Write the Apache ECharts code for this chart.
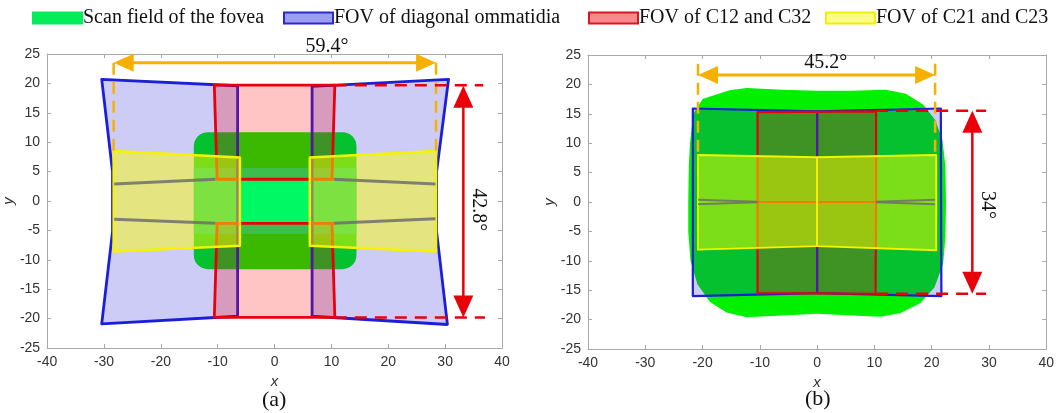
<!DOCTYPE html>
<html>
<head>
<meta charset="utf-8">
<script src="https://cdn.jsdelivr.net/npm/echarts@6/dist/echarts.min.js"></script>
<style>
  html, body { margin: 0; background: #fff; }
  #chart { width: 1057px; height: 413px; }
</style>
</head>
<body>
<div id="chart"></div>
<script>
// axis ranges
const xRange = [-40, 40, 10];
const yRange = [-25, 25, 5];

const legendNames = ['Scan field of the fovea', 'FOV of diagonal ommatidia', 'FOV of C12 and C32', 'FOV of C21 and C23'];

// ---- panel (a) ----
// scan field: [xmin, xmax, ymin, ymax]
const scanFieldA = [-14.2, 14.4, -11.6, 11.7];
const scanBandA = [-14.2, 14.4, -5.6, 5.6];
const diagA = [
  [[-30.4, 20.7], [-6.5, 19.6], [-6.5, -19.6], [-30.4, -20.9], [-28.5, -5.2], [-28.5, 5.0]],
  [[6.6, 19.5], [30.6, 20.7], [28.5, 5.0], [28.5, -5.2], [30.4, -21.0], [6.6, -19.6]]
];
const c12A = [
  [[-10.6, 19.7], [10.6, 19.7], [10.1, 3.7], [-10.1, 3.7]],
  [[-10.1, -3.8], [10.1, -3.8], [10.6, -19.8], [-10.6, -19.8]]
];
const c21A = [
  [[-28.3, 8.5], [-6.1, 7.4], [-6.1, -7.6], [-28.3, -8.6]],
  [[6.2, 7.4], [28.4, 8.5], [28.4, -8.6], [6.2, -7.6]]
];
const grayA = [
  [[-28.2, 2.9], [-10.4, 3.7]], [[-28.2, -3.1], [-10.4, -3.8]],
  [[10.4, 3.7], [28.3, 2.9]], [[10.4, -3.8], [28.3, -3.0]]
];
const widthArrowA = [-28.3, 23.5, 28.4, 23.5];
const widthGuidesA = [[[-28.3, 23.5], [-28.3, 8.5]], [[28.4, 23.5], [28.4, 8.5]]];
const heightArrowA = [33.2, 19.6, 33.2, -19.8];
const heightGuidesA = [[[10.6, 19.7], [36.7, 19.7]], [[10.6, -19.8], [37.0, -19.8]]];
const labelsA = [['59.4°', 9.2, 26.2, 0], ['42.8°', 35.9, -1.5, -90]];

// ---- panel (b) ----
const scanFieldB = [
  [0, 18.9], [6, 18.9], [12, 19.1], [15.5, 18.4], [18.5, 16.6], [20.6, 14], [21.9, 10.5], [22.4, 6],
  [22.5, 0], [22.4, -6], [22, -10.5], [20.5, -14.5], [18, -17.2], [14.5, -18.9], [11, -19.5],
  [6, -19.3], [0, -19], [-6, -19.3], [-12.3, -19.6], [-15.8, -18.8], [-18.7, -17], [-20.9, -14],
  [-22.1, -10], [-22.5, -5], [-22.5, 0], [-22.4, 6], [-22.2, 10], [-21.6, 15], [-20, 17.5],
  [-15.3, 19], [-12.3, 19.4], [-6, 19.1]
];
const diagB = [
  [[-21.7, 15.9], [0, 15.4], [0, -15.5], [-21.7, -16.0]],
  [[0, 15.4], [21.6, 15.9], [21.7, -16.0], [0, -15.5]]
];
const c12B = [
  [[-10.4, 15.3], [10.3, 15.4], [10.3, 0], [-10.4, 0]],
  [[-10.4, 0], [10.3, 0], [10.2, -15.6], [-10.4, -15.5]]
];
const c21B = [
  [[-20.8, 8.0], [0, 7.6], [0, -7.5], [-20.8, -8.1]],
  [[0, 7.6], [20.8, 8.0], [20.8, -8.2], [0, -7.5]]
];
const grayB = [
  [[-20.8, 0.4], [-10.4, 0.05]], [[-20.8, -0.4], [-10.4, -0.05]],
  [[10.3, 0.05], [20.6, 0.4]], [[10.3, -0.05], [20.6, -0.4]]
];
const widthArrowB = [-20.8, 21.6, 20.6, 21.6];
const widthGuidesB = [[[-20.8, 23.5], [-20.8, 8.0]], [[20.6, 23.5], [20.6, 8.0]]];
const heightArrowB = [27.1, 15.5, 27.1, -15.6];
const heightGuidesB = [[[10.3, 15.5], [29.5, 15.5]], [[10.3, -15.6], [29.5, -15.6]]];
const labelsB = [['45.2°', 1.5, 23.6, 0], ['34°', 29.7, -0.5, -90]];

const GREEN = '#00f000', BAND = '#00f864';
const BLUE_FILL = 'rgba(25,25,215,0.22)', BLUE = '#1c1fd8';
const RED_FILL = 'rgba(255,0,0,0.23)', RED = '#e8000b';
const YEL_FILL = 'rgba(255,255,0,0.48)', YEL = '#f4f400';
const ORANGE = '#f6b100';

function onGrid(g, s) {
  return Object.assign({ type: 'custom', xAxisIndex: g * 2, yAxisIndex: g * 2, silent: true, clip: false }, s);
}

function polySeries(name, g, list, fill, stroke, lw) {
  return onGrid(g, {
    name,
    data: list.map(() => [0, 0]),
    renderItem: (params, api) => ({
      type: 'polygon',
      shape: { points: list[params.dataIndex].map(p => api.coord(p)) },
      style: { fill, stroke, lineWidth: lw, lineJoin: 'round' }
    })
  });
}

function rectSeries(name, g, list, fill, r) {
  return onGrid(g, {
    name,
    data: list.map(() => [0, 0]),
    renderItem: (params, api) => {
      const b = list[params.dataIndex];
      const p1 = api.coord([b[0], b[3]]), p2 = api.coord([b[1], b[2]]);
      return { type: 'rect', shape: { x: p1[0], y: p1[1], width: p2[0] - p1[0], height: p2[1] - p1[1], r }, style: { fill } };
    }
  });
}

function lineSeries(g, list, stroke, lw, dash) {
  return onGrid(g, {
    data: list.map(() => [0, 0]),
    renderItem: (params, api) => ({
      type: 'polyline',
      shape: { points: list[params.dataIndex].map(p => api.coord(p)) },
      style: { stroke, lineWidth: lw, fill: null, lineDash: dash || null }
    })
  });
}

function arrowSeries(g, a, color, lw, headLen, headHalf) {
  return onGrid(g, {
    data: [[0, 0]],
    renderItem: (params, api) => {
      const p1 = api.coord([a[0], a[1]]), p2 = api.coord([a[2], a[3]]);
      const dx = p2[0] - p1[0], dy = p2[1] - p1[1];
      const L = Math.hypot(dx, dy), ux = dx / L, uy = dy / L, nx = -uy, ny = ux;
      const head = (tip, s) => {
        const bx = tip[0] - s * ux * headLen, by = tip[1] - s * uy * headLen;
        return { type: 'polygon', shape: { points: [tip, [bx + nx * headHalf, by + ny * headHalf], [bx - nx * headHalf, by - ny * headHalf]] }, style: { fill: color } };
      };
      return {
        type: 'group',
        children: [
          { type: 'line', shape: { x1: p1[0] + ux * headLen * 0.8, y1: p1[1] + uy * headLen * 0.8, x2: p2[0] - ux * headLen * 0.8, y2: p2[1] - uy * headLen * 0.8 }, style: { stroke: color, lineWidth: lw } },
          head(p1, -1), head(p2, 1)
        ]
      };
    }
  });
}

function textSeries(g, list) {
  return onGrid(g, {
    data: list.map(() => [0, 0]),
    renderItem: (params, api) => {
      const t = list[params.dataIndex];
      const p = api.coord([t[1], t[2]]);
      return {
        type: 'text', x: p[0], y: p[1], rotation: t[3] * Math.PI / 180,
        style: { text: t[0], fill: '#111', font: '20px "Liberation Serif"', align: 'center', verticalAlign: 'middle' }
      };
    }
  });
}

function panelSeries(g, d) {
  const out = [];
  if (d.blob) out.push(polySeries(legendNames[0], g, [d.blob], GREEN, null, 0));
  if (d.rect) {
    out.push(rectSeries(legendNames[0], g, [d.rect], GREEN, 14));
    out.push(rectSeries(legendNames[0], g, [d.band], BAND, 0));
  }
  out.push(polySeries(legendNames[1], g, d.diag, BLUE_FILL, BLUE, d.lw));
  out.push(polySeries(legendNames[2], g, d.c12, RED_FILL, RED, d.lw));
  out.push(polySeries(legendNames[3], g, d.c21, YEL_FILL, YEL, d.lw - 0.3));
  out.push(lineSeries(g, d.gray, 'rgba(110,110,110,0.85)', d.grayW));
  out.push(lineSeries(g, d.wGuides, ORANGE, 2.5, [12, 7]));
  out.push(lineSeries(g, d.hGuides, RED, 2.5, [12, 8]));
  out.push(arrowSeries(g, d.wArrow, ORANGE, 3, 20, 9));
  out.push(arrowSeries(g, d.hArrow, RED, 2.5, 22, 10));
  out.push(textSeries(g, d.labels));
  return out;
}

const series = [].concat(
  panelSeries(0, { rect: scanFieldA, band: scanBandA, diag: diagA, c12: c12A, c21: c21A, gray: grayA, grayW: 3,
    wArrow: widthArrowA, wGuides: widthGuidesA, hArrow: heightArrowA, hGuides: heightGuidesA, labels: labelsA, lw: 2.8 }),
  panelSeries(1, { blob: scanFieldB, diag: diagB, c12: c12B, c21: c21B, gray: grayB, grayW: 2,
    wArrow: widthArrowB, wGuides: widthGuidesB, hArrow: heightArrowB, hGuides: heightGuidesB, labels: labelsB, lw: 2.2 })
);

const axisGray = '#a8a8a8';
function baseAxis(g, range) {
  return { type: 'value', gridIndex: g, min: range[0], max: range[1], interval: range[2],
    axisLine: { onZero: false, lineStyle: { color: axisGray, width: 1 } },
    axisTick: { inside: true, length: 4, lineStyle: { color: axisGray } },
    splitLine: { show: false } };
}
const nameStyle = { fontStyle: 'italic', fontSize: 15, color: '#333', fontFamily: 'Liberation Sans' };
const labelStyle = { color: '#333', fontSize: 14, fontFamily: 'Liberation Sans', margin: 7 };
function xAxes(g) {
  return [
    Object.assign(baseAxis(g, xRange), { position: 'bottom', name: 'x', nameLocation: 'middle', nameGap: 19,
      nameTextStyle: nameStyle, axisLabel: labelStyle }),
    Object.assign(baseAxis(g, xRange), { position: 'top', axisLabel: { show: false } })
  ];
}
function yAxes(g) {
  return [
    Object.assign(baseAxis(g, yRange), { position: 'left', name: 'y', nameLocation: 'middle', nameGap: 27,
      nameTextStyle: nameStyle, axisLabel: labelStyle }),
    Object.assign(baseAxis(g, yRange), { position: 'right', axisLabel: { show: false } })
  ];
}

const legendFills = [
  { color: '#05ec5a', borderColor: '#05ec5a' },
  { color: '#9c9ff0', borderColor: '#2a2ad0' },
  { color: '#f8888c', borderColor: '#d81820' },
  { color: '#fbfb88', borderColor: '#f0f000' }
];
const legendLeft = [32, 283, 588, 825];

const chart = echarts.init(document.getElementById('chart'));
chart.setOption({
  animation: false,
  backgroundColor: '#fff',
  legend: legendNames.map((n, i) => ({
    left: legendLeft[i], top: 8, padding: 0, icon: 'rect', itemWidth: 49, itemHeight: 11, selectedMode: false,
    textStyle: { fontFamily: 'Liberation Serif', fontSize: 20, color: '#111', padding: [0, 0, 0, -4] },
    data: [{ name: n, itemStyle: Object.assign({ borderWidth: 2 }, legendFills[i]) }]
  })),
  grid: [
    { left: 45, top: 54, width: 457, height: 294 },
    { left: 588, top: 55, width: 459, height: 294 }
  ],
  xAxis: xAxes(0).concat(xAxes(1)),
  yAxis: yAxes(0).concat(yAxes(1)),
  graphic: [
    { type: 'text', left: 262, top: 389, style: { text: '(a)', font: '22px "Liberation Serif"', fill: '#111' } },
    { type: 'text', left: 805, top: 388, style: { text: '(b)', font: '22px "Liberation Serif"', fill: '#111' } }
  ],
  series
});
</script>
</body>
</html>
